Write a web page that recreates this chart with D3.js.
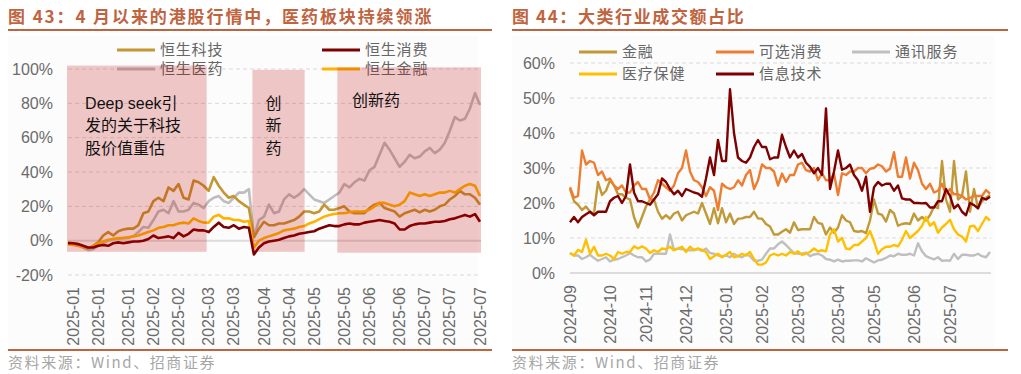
<!DOCTYPE html>
<html>
<head>
<meta charset="utf-8">
<script src="https://cdn.jsdelivr.net/npm/d3@7"></script>
<style>
  body { margin: 0; background: #fff; }
  text { font-family: "Liberation Sans", "Noto Sans CJK SC", sans-serif; }
  .cjk { font-family: "Noto Sans CJK SC", sans-serif; }
</style>
</head>
<body>
<div id="chart"></div>
<script>
// ---------- left chart: 港股指数累计涨跌幅 (%) ----------
const leftTickLabels = ["2025-01","2025-01","2025-01","2025-02","2025-02","2025-03","2025-03","2025-04",
  "2025-04","2025-05","2025-05","2025-06","2025-06","2025-07","2025-07","2025-07"];
const leftTickIdx = [1, 6, 12, 17, 22, 28, 33, 39, 44, 49, 55, 60, 66, 71, 76, 82];
const leftYTicks = [-20, 0, 20, 40, 60, 80, 100];

const hsTech = [-1,-1.5,-2,-3.5,-4.5,-3,-1,3,5,3,
  5.5,6.5,7,7,9,16,17,23,25,23,
  31,29,33,25,24,35,34,32,29,37,
  32,28,25,26,23,21,19,2,7,11,
  9,9,10,10,11,12,14,17,17,16,
  17,21,18,18,19,20,17,16,16,16,
  19,21,22,19,18,17,14,16,17,18,
  16.5,18,17,18,20,21,24,26,29,27,
  27,25,21];
const hsCons = [-1.5,-1.5,-2,-3,-4,-4,-3,-2.5,-3,-1.5,
  -1,-1.5,-1,-0.5,-0.5,0,1,3,1.5,2,
  2.5,1.5,4.5,2.5,4,6.5,6,6,5,8,
  10.5,8,7.5,9,7,8,7.5,-8,-4,-1.5,
  -0.5,0,0.5,1.5,2.5,3,4,4.5,5,5.5,
  7,8,9,8.5,8.5,9.5,10,9.5,9.5,10.5,
  11,11.5,12,11.5,11,10,6.5,6.5,8.5,9.5,
  10,10,10.5,11,11,11.5,12.5,13,14,15,
  14,15.5,11];
const hsMed = [-1,-2,-3,-4,-5.5,-5,-3,-1.5,0,1,
  1,1.5,1.5,2.5,5,8,7.5,12,17,18,
  16,23,17,17,18,22,21,19,23,25,
  26,23,22,25,28,28,30,2,12,14,
  21,16,17,24,27,25,27,30,27,24,
  23,22,24,26,28,33,31,34,36,35,
  41,43,50,57,53,48,43,46,50,48,
  49,52,54,51,53,57,64,72,70,71,
  77,86,79];
const hsFin = [-2,-2.5,-3,-3.5,-4,-3.5,-1.5,-0.5,0.5,1,
  1.5,1.5,2,2.5,3,4,5,6,7.5,8,
  9,9,10,10.5,10,13,11.5,10.5,10.5,14,
  15,13,13,12,12,11,11.5,-4,0,1.5,
  2.5,3.5,4.5,6,6.5,7,8,8.5,10,11,
  12.5,14,15,15.5,16,16,16.5,17,17,17,
  18,20,22,22,21,20,21,23,28,27,
  26,27,26,27,28,28,29,28,30,32,
  33,32,26];

// shaded periods: [start index, end index, low %, high %]
const shadeRanges = [[-0.2, 27.6, -6.5, 102], [36.7, 47.1, -6.5, 99.5], [53.6, 82.2, -7, 101]];
const shadeNotes = [
  { i: 3.4, v: 80, lines: ["Deep seek引", "发的关于科技", "股价值重估"], anchor: "start" },
  { i: 40.9, v: 80, lines: ["创", "新", "药"], anchor: "middle" },
  { i: 61.3, v: 82, lines: ["创新药"], anchor: "middle" }
];

// ---------- right chart: 大类行业成交额占比 (%) ----------
const rightTickLabels = ["2024-09","2024-10","2024-11","2024-12","2025-01","2025-02","2025-03",
  "2025-04","2025-05","2025-06","2025-07"];
const rightTickIdx = [0, 10, 19, 29, 39, 48, 57, 67, 76, 86, 95];
const rightYTicks = [0, 10, 20, 30, 40, 50, 60];

const finR = [24,20.5,19.5,18,19,17.5,17,26,22.3,23.5,
  26.5,25,22.5,22.5,21.5,21,16,13,16,19,
  21,21,17.5,15.5,16.5,15.5,17,17.5,15,16.5,
  17,17.5,17,20,17,14,18.5,14.2,18.5,14.5,
  17,14,15.5,15.6,16,16,17.5,15.6,15.5,14,
  13.3,11,11,11.8,12.5,11.5,14.5,12.3,12.5,12.5,
  12.5,16,14.3,14,11,13,11.5,13,16.5,15,
  14.5,12,11.8,12,11.4,15,21,17,16.6,14.7,
  18,17,13.5,14,14.2,14,17,15,16,15,
  16.5,19,18.5,32,21,17.5,32,21,22,29,
  17.5,24,18.5,20.5,21.5,22.3];
const consR = [24.5,21.5,22,35,31,32,31.5,28,29,26.5,
  27,25,24,25,23,23,25,26,24,24,
  21,23,26.5,25.5,24.5,23.5,25,28.5,30,35,
  29,26.5,26,24.5,22,24.5,23.5,18,25.5,24.5,
  24,24.5,26.5,25,28,29.4,24,26.5,31,30,
  30,29,25,28.4,26,28,28,31,31.5,29.4,
  29,30,26.5,28.5,26.5,26.5,28.4,22.3,28.5,28,
  29,29,30,30,28.5,29.8,30,31,30.5,29,
  29.8,34.5,27.5,27.5,33,27,31.5,29.4,25.5,24,
  25.5,23,23.5,25.5,22.5,24,22.5,22.5,22,21,
  21.5,22,22,22,23.7,22.7];
const commR = [5.7,5,5,4,4.5,5.2,4.3,3.5,4,4.5,
  3.3,3.8,4,4.5,5,5.7,5,4.5,4.5,3.3,
  3.8,5.5,5.5,5.5,5.5,11,6.6,7,6.8,6.5,
  6.5,6.5,6.8,6.3,7,5.7,5.5,5,4.8,5,
  4.5,5.5,4.8,4.5,5.3,4.8,3.5,3.5,3.8,5.5,
  7,7,8.2,9,8,6.8,5.7,5.5,5.5,5.8,
  4.8,5.3,5.5,5,4,3.8,3.3,3.8,3.3,3.5,
  3.5,3.6,3.6,3.3,4.2,3.6,3,3.6,3.8,4.3,
  5,4.8,5.5,5.2,5.2,5.5,5,8.5,6.2,4.8,
  4.3,3.9,4.5,3.5,3.6,3.5,5.5,4,5.2,5.2,
  5,5,5.5,4.8,4.5,6];
const healthR = [5.7,5,6.6,6,9.5,5.5,7.5,5,5,5.5,
  5,4,6,5.5,6,6,7.6,7,7.6,7,
  5.7,6.5,6,7,6.8,7.5,6.5,7,7.5,6,
  7.5,6.6,7,6.6,6,4,4.8,5.5,4.5,5.2,
  6,4.5,4.8,5.5,5,6,4,2.4,2.4,3,
  5,5.5,5,5.5,5,6,5.5,6.2,5.2,5.5,
  6,7,6.2,6.5,6.2,11,12.5,9,10,7,
  6.8,8,8,9,10,12,9,5.5,6.8,7.5,
  7.5,8,7.6,9.5,12,10,11,12,13.5,16,
  13.5,14.5,11.5,13,14,15.2,12.5,11,10.4,9,
  13.3,13.5,12,14,16,15];
const infoR = [14.5,16,14.5,16,16.8,17.5,16.5,17.5,17.5,17.5,
  20.5,21.5,22,20,22,31,23,20.5,20.5,20,
  19.5,21,22.5,27,26,24,22.5,23.5,22,24,
  23.5,23,22.7,21.8,27,33,28,38,32,32,
  52.5,40,33,32,31.5,33,36,38,36,36,
  32.5,33,33,39.5,36,33,35,33,34,31.5,
  30.3,28.5,30,28,47,24,29,35,29.5,30,
  31,28,26.5,23.5,27.5,17.5,24.5,26,25,25.5,
  25.5,23.5,25,21.3,21,21,20,20,19.9,20,
  18.7,18.7,20.5,20.5,24,22,18.5,19.5,17.5,16.5,
  20,19.4,18.5,21.5,21,21.8];

const W = 1021, H = 374;
const accent = "#c0633f";
const gridColor = "#d9d9d9";
const tickColor = "#6b6b6b";

const svg = d3.select("#chart").append("svg")
  .attr("width", W).attr("height", H);

// panel frame: title, rules, source
function panel(x0, x1, title, spacing) {
  svg.append("rect").attr("x", x0).attr("y", 36).attr("width", x1 - x0 - 14).attr("height", 312)
    .attr("fill", "#fcfcfc");
  svg.append("text").attr("class", "cjk")
    .attr("x", x0).attr("y", 23)
    .attr("fill", accent).style("font-size", "17px").style("font-weight", "bold")
    .style("letter-spacing", spacing + "px")
    .text(title);
  svg.append("line").attr("x1", x0).attr("x2", x1).attr("y1", 30).attr("y2", 30)
    .attr("stroke", accent).attr("stroke-width", 2);
  svg.append("line").attr("x1", x0).attr("x2", x1).attr("y1", 350).attr("y2", 350)
    .attr("stroke", accent).attr("stroke-width", 2);
  svg.append("text").attr("class", "cjk")
    .attr("x", x0).attr("y", 368)
    .attr("fill", "#a6a6a6").style("font-size", "15px").style("letter-spacing", "1.6px")
    .text("资料来源：Wind、招商证券");
}

function grid(g, y, ticks, x0, x1, xLabel) {
  ticks.forEach(t => {
    g.append("line")
      .attr("x1", x0).attr("x2", x1).attr("y1", y(t)).attr("y2", y(t))
      .attr("stroke", t === 0 ? "#dcdcdc" : gridColor)
      .attr("stroke-width", t === 0 ? 2 : 1)
      .attr("stroke-dasharray", t === 0 ? null : "4,3");
    g.append("text")
      .attr("x", xLabel).attr("y", y(t)).attr("dy", "0.35em")
      .attr("text-anchor", "end").attr("fill", tickColor)
      .style("font-size", "16px")
      .text(t + "%");
  });
}

function xLabels(g, x, idx, labels, yTop) {
  idx.forEach((i, k) => {
    g.append("text")
      .attr("transform", `translate(${x(i)},${yTop}) rotate(-90)`)
      .attr("dy", "0.35em").attr("text-anchor", "end")
      .attr("fill", tickColor).style("font-size", "16px")
      .text(labels[k]);
  });
}

function legend(g, items) {
  items.forEach(d => {
    g.append("line").attr("x1", d.x).attr("x2", d.x + 38).attr("y1", d.y).attr("y2", d.y)
      .attr("stroke", d.color).attr("stroke-width", 3);
    g.append("text").attr("class", "cjk")
      .attr("x", d.x + 43).attr("y", d.y).attr("dy", "0.36em")
      .attr("fill", "#666").style("font-size", "15px").style("letter-spacing", "0.8px")
      .text(d.name);
  });
}

// ================= LEFT =================
panel(8, 492, "图 43：4 月以来的港股行情中，医药板块持续领涨", 1.9);
const gL = svg.append("g");
const xL = d3.scaleLinear().domain([0, hsTech.length - 1]).range([68, 480]);
const yL = d3.scaleLinear().domain([-20, 100]).range([275, 69]);
grid(gL, yL, leftYTicks, 68, 481, 53);
xLabels(gL, xL, leftTickIdx, leftTickLabels, 287);

const leftSeries = [
  { name: "恒生科技", values: hsTech, color: "#c4962f" },
  { name: "恒生消费", values: hsCons, color: "#7b0000" },
  { name: "恒生医药", values: hsMed, color: "#bdbdbd" },
  { name: "恒生金融", values: hsFin, color: "#ffb300" }
];
const lineL = d3.line().x((d, i) => xL(i)).y(d => yL(d));
[leftSeries[2], leftSeries[0], leftSeries[3], leftSeries[1]].forEach(s => {
  gL.append("path").attr("d", lineL(s.values))
    .attr("fill", "none").attr("stroke", s.color)
    .attr("stroke-width", 2.6).attr("stroke-linejoin", "round");
});

legend(gL, [
  { name: "恒生科技", color: leftSeries[0].color, x: 117, y: 50 },
  { name: "恒生消费", color: leftSeries[1].color, x: 322, y: 50 },
  { name: "恒生医药", color: leftSeries[2].color, x: 117, y: 69 },
  { name: "恒生金融", color: leftSeries[3].color, x: 322, y: 69 }
]);

// shaded periods drawn on top, semi-transparent
shadeRanges.forEach(r => {
  gL.append("rect")
    .attr("x", xL(r[0])).attr("width", xL(r[1]) - xL(r[0]))
    .attr("y", yL(r[3])).attr("height", yL(r[2]) - yL(r[3]))
    .attr("fill", "rgb(192,0,0)").attr("fill-opacity", 0.21);
});

shadeNotes.forEach(n => {
  n.lines.forEach((t, k) => {
    gL.append("text").attr("class", k === 0 && t.startsWith("Deep") ? null : "cjk")
      .attr("x", xL(n.i)).attr("y", yL(n.v) + k * 22.5).attr("dy", "0.35em")
      .attr("text-anchor", n.anchor).attr("fill", "#111")
      .style("font-size", "16px")
      .text(t);
  });
});

// ================= RIGHT =================
panel(512, 1008, "图 44：大类行业成交额占比", 1.6);
const gR = svg.append("g");
const xR = d3.scaleLinear().domain([0, finR.length - 1]).range([570, 990]);
const yR = d3.scaleLinear().domain([0, 60]).range([273, 63]);
grid(gR, yR, rightYTicks, 570, 991, 555);
xLabels(gR, xR, rightTickIdx, rightTickLabels, 285);

const rightSeries = [
  { name: "金融", values: finR, color: "#c09a38" },
  { name: "可选消费", values: consR, color: "#ed7d31" },
  { name: "通讯服务", values: commR, color: "#bfbfbf" },
  { name: "医疗保健", values: healthR, color: "#ffc000" },
  { name: "信息技术", values: infoR, color: "#7f0000" }
];
const lineR = d3.line().x((d, i) => xR(i)).y(d => yR(d));
rightSeries.forEach(s => {
  gR.append("path").attr("d", lineR(s.values))
    .attr("fill", "none").attr("stroke", s.color)
    .attr("stroke-width", 2.4).attr("stroke-linejoin", "round");
});

legend(gR, [
  { name: "金融", color: rightSeries[0].color, x: 579, y: 52 },
  { name: "可选消费", color: rightSeries[1].color, x: 716, y: 52 },
  { name: "通讯服务", color: rightSeries[2].color, x: 852, y: 52 },
  { name: "医疗保健", color: rightSeries[3].color, x: 579, y: 74 },
  { name: "信息技术", color: rightSeries[4].color, x: 716, y: 74 }
]);
</script>
</body>
</html>
